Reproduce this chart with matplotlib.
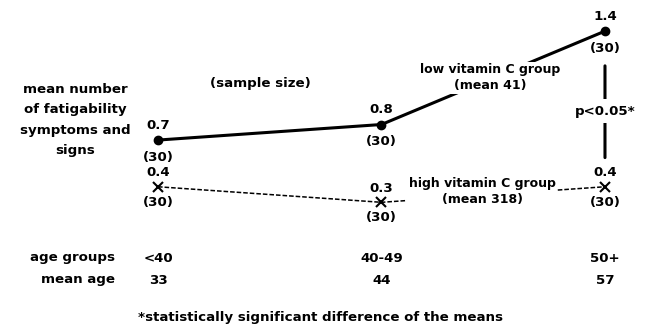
import matplotlib
matplotlib.use('Agg')
import matplotlib.pyplot as plt
from matplotlib.transforms import blended_transform_factory

# ---- data ----
age_groups = ['<40', '40-49', '50+']
mean_age = [33, 44, 57]
low_vitc = [0.7, 0.8, 1.4]
high_vitc = [0.4, 0.3, 0.4]
low_n = [30, 30, 30]
high_n = [30, 30, 30]

FONT = 'DejaVu Sans'
FS = 9.6
plt.rcParams['font.family'] = [FONT]
plt.rcParams['font.weight'] = 'bold'

fig = plt.figure(figsize=(6.47, 3.36), dpi=100)
ax = fig.add_axes([0, 0, 1, 1])
ax.set_xlim(-0.707, 2.188)
ax.set_ylim(-0.559, 1.600)
ax.axis('off')

x = list(range(len(age_groups)))
ax.plot(x, low_vitc, color='black', lw=2.2, marker='o', ms=6, zorder=2)
ax.plot(x, high_vitc, color='black', lw=1.1, ls=(0, (3, 1.3)), marker='x',
        ms=7, mew=1.5, zorder=2)

# value labels and sample sizes
for xi, v, n in zip(x, low_vitc, low_n):
    ax.annotate(f'{v}', (xi, v), xytext=(0, 10.5), textcoords='offset points',
                ha='center', va='center', fontsize=FS)
    ax.annotate(f'({n})', (xi, v), xytext=(0, -12.5), textcoords='offset points',
                ha='center', va='center', fontsize=FS)
for xi, v, n in zip(x, high_vitc, high_n):
    ax.annotate(f'{v}', (xi, v), xytext=(0, 10), textcoords='offset points',
                ha='center', va='center', fontsize=FS)
    ax.annotate(f'({n})', (xi, v), xytext=(0, -11), textcoords='offset points',
                ha='center', va='center', fontsize=FS)

# group labels on the lines
ax.annotate('low vitamin C group\n(mean 41)',
            ((x[1] + x[2]) / 2, (low_vitc[1] + low_vitc[2]) / 2),
            xytext=(-2, 0), textcoords='offset points',
            ha='center', va='center', fontsize=FS - 0.6, linespacing=1.3,
            bbox=dict(fc='white', ec='none', pad=1), zorder=3)
ax.annotate('high vitamin C group\n(mean 318)',
            ((x[1] + x[2]) / 2, (high_vitc[1] + high_vitc[2]) / 2),
            xytext=(-8, 2), textcoords='offset points',
            ha='center', va='center', fontsize=FS - 0.6, linespacing=1.3,
            bbox=dict(fc='white', ec='none', pad=1), zorder=3)

# significance bar
ax.annotate('', xy=(x[2], high_vitc[2]), xytext=(x[2], low_vitc[2]),
            arrowprops=dict(arrowstyle='-', lw=2.2, color='black',
                            shrinkA=25, shrinkB=21))
ax.text(x[2], (low_vitc[2] + high_vitc[2]) / 2 - 0.015, 'p<0.05*',
        ha='center', va='center', fontsize=FS,
        bbox=dict(fc='white', ec='none', pad=4), zorder=3)

# left-hand labels
fig.text(75 / 647, 1 - 120 / 336,
         'mean number\nof fatigability\nsymptoms and\nsigns',
         ha='center', va='center', fontsize=FS, linespacing=1.72)
fig.text(260 / 647, 1 - 83 / 336, '(sample size)',
         ha='center', va='center', fontsize=FS)

# bottom rows
tr = blended_transform_factory(ax.transData, fig.transFigure)
fig.text(115 / 647, 1 - 258 / 336, 'age groups', ha='right', va='center', fontsize=FS)
fig.text(115 / 647, 1 - 280 / 336, 'mean age', ha='right', va='center', fontsize=FS)
for xi, g, m in zip(x, age_groups, mean_age):
    ax.text(xi, 1 - 258 / 336, g, transform=tr, ha='center', va='center', fontsize=FS)
    ax.text(xi, 1 - 280 / 336, str(m), transform=tr, ha='center', va='center', fontsize=FS)

fig.text(320 / 647, 1 - 318 / 336, '*statistically significant difference of the means',
         ha='center', va='center', fontsize=FS)

fig.savefig('out.png', dpi=100, facecolor='white')
